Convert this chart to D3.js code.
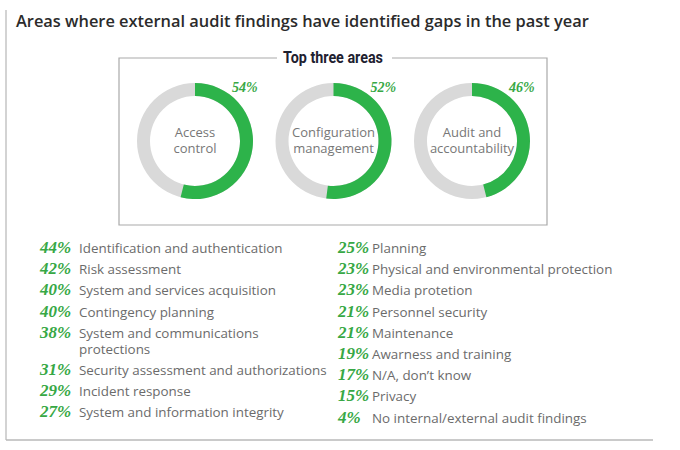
<!DOCTYPE html>
<html>
<head>
<meta charset="utf-8">
<script src="https://cdn.jsdelivr.net/npm/d3@7"></script>
<style>
  body { margin: 0; background: #fff; }
  svg { display: block; }
</style>
</head>
<body>
<div id="chart"></div>
<script>
// top three areas (donuts)
const topAreas = [["Access", "control"], ["Configuration", "management"], ["Audit and", "accountability"]];
const topValues = [54, 52, 46];

// remaining areas, two columns
const leftLabels = [
  ["Identification and authentication"],
  ["Risk assessment"],
  ["System and services acquisition"],
  ["Contingency planning"],
  ["System and communications", "protections"],
  ["Security assessment and authorizations"],
  ["Incident response"],
  ["System and information integrity"],
];
const leftValues = [44, 42, 40, 40, 38, 31, 29, 27];

const rightLabels = [
  ["Planning"],
  ["Physical and environmental protection"],
  ["Media protetion"],
  ["Personnel security"],
  ["Maintenance"],
  ["Awarness and training"],
  ["N/A, don’t know"],
  ["Privacy"],
  ["No internal/external audit findings"],
];
const rightValues = [25, 23, 23, 21, 21, 19, 17, 15, 4];

const width = 680;
const height = 450;
const green = "#2db34a";
const pctGreen = "#37a845";
const ringGrey = "#d9d9d9";
const textGrey = "#6b6b6b";

const svg = d3
  .select("#chart")
  .append("svg")
  .attr("width", width)
  .attr("height", height);

// outer frame: left and bottom rules
svg.append("line")
  .attr("x1", 6).attr("x2", 6).attr("y1", 10).attr("y2", 440)
  .attr("stroke", "#c4c4c4").attr("stroke-width", 1.5);
svg.append("line")
  .attr("x1", 6).attr("x2", 653).attr("y1", 440).attr("y2", 440)
  .attr("stroke", "#b8b8b8").attr("stroke-width", 1.5);

svg.append("text")
  .attr("x", 16)
  .attr("y", 27)
  .attr("font-family", "Open Sans")
  .attr("font-weight", 600)
  .attr("font-size", 16.4)
  .attr("fill", "#2b2b2b")
  .text("Areas where external audit findings have identified gaps in the past year");

// box around donuts
const box = { x0: 119, x1: 547, y0: 58, y1: 225 };
const boxTitleGap = [277, 392];
const boxPath = d3.path();
boxPath.moveTo(boxTitleGap[0], box.y0);
boxPath.lineTo(box.x0, box.y0);
boxPath.lineTo(box.x0, box.y1);
boxPath.lineTo(box.x1, box.y1);
boxPath.lineTo(box.x1, box.y0);
boxPath.lineTo(boxTitleGap[1], box.y0);
svg.append("path")
  .attr("d", boxPath.toString())
  .attr("fill", "none")
  .attr("stroke", "#a9a9a9")
  .attr("stroke-width", 1.2);

svg.append("text")
  .attr("x", 283)
  .attr("y", 63)
  .attr("textLength", 100)
  .attr("lengthAdjust", "spacingAndGlyphs")
  .attr("font-family", "Roboto, sans-serif")
  .attr("font-weight", 700)
  .attr("font-size", 16)
  .attr("fill", "#1e2130")
  .text("Top three areas");

// donuts
const donutX = d3.scalePoint().domain(d3.range(topValues.length)).range([195, 472]);
const donutY = 141;
const outerR = 58;
const innerR = 45;
const pctScale = d3.scaleLinear().domain([0, 100]).range([0, 2 * Math.PI]);
const arc = d3.arc().innerRadius(innerR).outerRadius(outerR);

const donuts = svg.selectAll("g.donut")
  .data(topValues)
  .join("g")
  .attr("class", "donut")
  .attr("transform", (d, i) => `translate(${donutX(i)},${donutY})`);

donuts.append("path")
  .attr("d", arc({ startAngle: 0, endAngle: 2 * Math.PI }))
  .attr("fill", ringGrey);
donuts.append("path")
  .attr("d", (d) => arc({ startAngle: 0, endAngle: pctScale(d) }))
  .attr("fill", green);

donuts.append("text")
  .attr("x", 37)
  .attr("y", -49)
  .attr("text-anchor", "start")
  .attr("font-family", "Liberation Serif, serif")
  .attr("font-style", "italic")
  .attr("font-weight", 700)
  .attr("font-size", 14)
  .attr("fill", pctGreen)
  .text((d) => d + "%");

// one text per line
donuts.selectAll("text.name")
  .data((d, i) => topAreas[i])
  .join("text")
  .attr("class", "name")
  .attr("text-anchor", "middle")
  .attr("font-family", "Open Sans")
  .attr("font-size", 13)
  .attr("fill", "#777")
  .attr("x", 0)
  .attr("y", (d, i) => -4 + i * 16)
  .text((d) => d);

// lists
function drawList(labels, values, xPct, xLabel) {
  let y = 253;
  const rows = values.map((v, i) => {
    const row = { v, lines: labels[i], y };
    y += 21.2 + (labels[i].length - 1) * 16;
    return row;
  });
  const g = svg.append("g");
  const row = g.selectAll("g").data(rows).join("g");
  row.append("text")
    .attr("x", xPct)
    .attr("y", (d) => d.y)
    .attr("font-family", "Liberation Serif, serif")
    .attr("font-style", "italic")
    .attr("font-weight", 700)
    .attr("font-size", 17)
    .attr("fill", pctGreen)
    .text((d) => d.v + "%");
  row.selectAll("text.label")
    .data((d) => d.lines.map((t, j) => ({ t, y: d.y + j * 16 })))
    .join("text")
    .attr("class", "label")
    .attr("font-family", "Open Sans")
    .attr("font-size", 13.4)
    .attr("fill", textGrey)
    .attr("x", xLabel)
    .attr("y", (d) => d.y)
    .text((d) => d.t);
}

drawList(leftLabels, leftValues, 40, 79);
drawList(rightLabels, rightValues, 338, 372);
</script>
</body>
</html>
